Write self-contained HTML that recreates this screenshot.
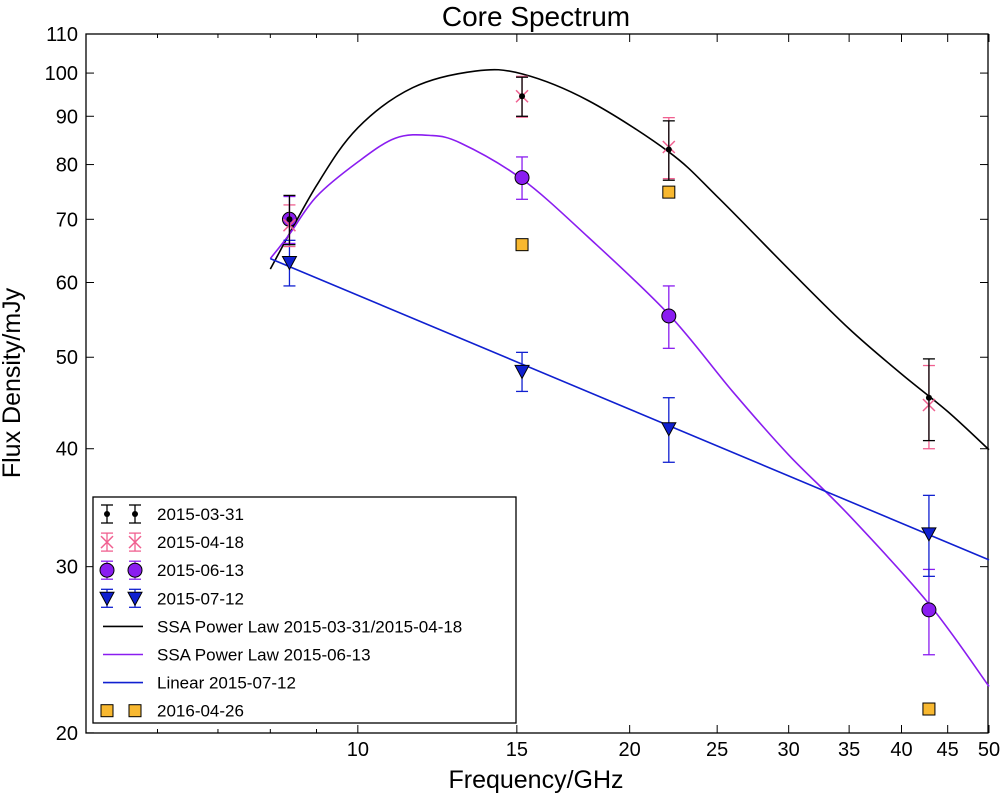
<!DOCTYPE html>
<html><head><meta charset="utf-8"><style>
body{margin:0;background:#fff;}
svg{display:block;font-family:"Liberation Sans",sans-serif;}
</style></head><body>
<svg id="chart" width="1000" height="797"></svg>
<script>
const xTicks=[10,15,20,25,30,35,40,45,50];
const xMinor=[6,7,8,9];
const yTicks=[20,30,40,50,60,70,80,90,100,110];
const freqs=[8.4,15.2,22.1,42.9];
const s0331=[70,94.5,83,45.3];
const e0331=[4.2,4.5,6,4.5];
const s0418=[69,94.5,83.5,44.5];
const e0418=[3.5,4.7,6.2,4.5];
const s0613=[70,77.5,55.3,27];
const e0613=[4,4,4.2,2.8];
const s0712=[63,48.3,42,32.5];
const e0712=[3.5,2.3,3.3,3.2];
const f0426=[15.2,22.1,42.9];
const s0426=[65.8,74.8,21.2];
const blkF=[8.0,9,10,11.5,13.5,15.2,18,22.1,25,30,35,40,45,50];
const blkS=[62,76,87.5,96.5,100.5,99.8,93.5,82.5,74,62,53.6,48,43.8,39.9];
const purF=[8.0,8.4,9,10,11,12,13,15.2,18,22.1,26,30,35,42.9,50];
const purS=[63.6,67.5,74,80.5,85.3,85.9,84.3,77.2,67,55.5,46,39.4,34,27.4,22.4];
const linF=[8.0,50];
const linS=[63.6,30.5];

const X0=86,X1=988,Y0=34,Y1=733;
const xs=f=>X0+(Math.log10(f)-Math.log10(5))*903;
const ys=v=>Y0+(Math.log10(110)-Math.log10(v))*944;
const svg=document.getElementById('chart');
const NS='http://www.w3.org/2000/svg';
function mk(t,a,parent){const e=document.createElementNS(NS,t);for(const k in a)e.setAttribute(k,a[k]);(parent||svg).appendChild(e);return e;}

let t=mk('text',{x:536,y:26,'text-anchor':'middle','font-size':28});t.textContent='Core Spectrum';


t=mk('text',{x:536,y:788,'text-anchor':'middle','font-size':25});t.textContent='Frequency/GHz';


t=mk('text',{x:20,y:383,'text-anchor':'middle','font-size':25,transform:'rotate(-90 20 383)'});t.textContent='Flux Density/mJy';



const frame=mk('rect',{x:X0,y:Y0,width:X1-X0,height:Y1-Y0,fill:'none',stroke:'#000','stroke-width':1.3});



xTicks.forEach(v=>{const x=xs(v);
 mk('line',{x1:x,x2:x,y1:Y1,y2:Y1-8,stroke:'#000'});mk('line',{x1:x,x2:x,y1:Y0,y2:Y0+8,stroke:'#000'});
 const l=mk('text',{x:x,y:Y1+23,'text-anchor':'middle','font-size':20});l.textContent=v;
 
 });
xMinor.forEach(v=>{const x=xs(v);mk('line',{x1:x,x2:x,y1:Y1,y2:Y1-4,stroke:'#000'});mk('line',{x1:x,x2:x,y1:Y0,y2:Y0+4,stroke:'#000'});});
yTicks.forEach(v=>{const y=ys(v);
 mk('line',{x1:X0,x2:X0+8,y1:y,y2:y,stroke:'#000'});mk('line',{x1:X1,x2:X1-8,y1:y,y2:y,stroke:'#000'});
 const l=mk('text',{x:X0-8,y:y+7,'text-anchor':'end','font-size':20});l.textContent=v;
 
 });

function line(F,S,c,name){
 const P=F.map((f,i)=>[xs(f),ys(S[i])]);
 let d='M'+P[0][0]+','+P[0][1];
 for(let i=0;i<P.length-1;i++){
  const p0=P[Math.max(0,i-1)],p1=P[i],p2=P[i+1],p3=P[Math.min(P.length-1,i+2)];
  const c1x=p1[0]+(p2[0]-p0[0])/6,c1y=p1[1]+(p2[1]-p0[1])/6;
  const c2x=p2[0]-(p3[0]-p1[0])/6,c2y=p2[1]-(p3[1]-p1[1])/6;
  d+=` C${c1x},${c1y} ${c2x},${c2y} ${p2[0]},${p2[1]}`;}
 const p=mk('path',{d:d,fill:'none',stroke:c,'stroke-width':1.6});
 
 }
line(blkF,blkS,'#000','ssa-curve-2015-03-31');
line(purF,purS,'#8a1df0','ssa-curve-2015-06-13');
line(linF,linS,'#1020d0','linear-fit-2015-07-12');

function ebar(x,y1,y2,c){mk('line',{x1:x,x2:x,y1:y1,y2:y2,stroke:c,'stroke-width':1.3});
 mk('line',{x1:x-6,x2:x+6,y1:y1,y2:y1,stroke:c,'stroke-width':1.3});mk('line',{x1:x-6,x2:x+6,y1:y2,y2:y2,stroke:c,'stroke-width':1.3});}
function marker(kind,x,y,name){let g=mk('g',{});
 
 
 if(kind==='dot')mk('circle',{cx:x,cy:y,r:3,fill:'#000'},g);
 if(kind==='x'){mk('line',{x1:x-6,y1:y-6,x2:x+6,y2:y+6,stroke:'#f06090','stroke-width':1.5},g);mk('line',{x1:x-6,y1:y+6,x2:x+6,y2:y-6,stroke:'#f06090','stroke-width':1.5},g);}
 if(kind==='circ')mk('circle',{cx:x,cy:y,r:7,fill:'#8a1df0',stroke:'#000','stroke-width':1},g);
 if(kind==='tri')mk('polygon',{points:`${x-7},${y-6} ${x+7},${y-6} ${x},${y+7}`,fill:'#1020d0',stroke:'#000','stroke-width':1},g);
 if(kind==='sq')mk('rect',{x:x-6,y:y-6,width:12,height:12,fill:'#f8b830',stroke:'#000','stroke-width':1},g);}
function series(S,E,c,kind,name){freqs.forEach((f,i)=>{const x=xs(f);ebar(x,ys(S[i]+E[i]),ys(S[i]-E[i]),c);marker(kind,x,ys(S[i]),name);});}
series(s0613,e0613,'#8a1df0','circ','point-2015-06-13');
series(s0712,e0712,'#1020d0','tri','point-2015-07-12');
series(s0418,e0418,'#f06090','x','point-2015-04-18');
series(s0331,e0331,'#000','dot','point-2015-03-31');
f0426.forEach((f,i)=>marker('sq',xs(f),ys(s0426[i]),'point-2016-04-26'));

const leg=mk('g',{});


mk('rect',{x:93,y:497,width:423,height:226,fill:'#fff',stroke:'#000','stroke-width':1.3},leg);
const entries=[['dot','#000','2015-03-31'],['x','#f06090','2015-04-18'],['circ','#8a1df0','2015-06-13'],['tri','#1020d0','2015-07-12'],['line','#000','SSA Power Law 2015-03-31/2015-04-18'],['line','#8a1df0','SSA Power Law 2015-06-13'],['line','#1020d0','Linear 2015-07-12'],['sq','#000','2016-04-26']];
entries.forEach((e,i)=>{const y=514+i*28.1;
 if(e[0]==='line'){mk('line',{x1:103,x2:143,y1:y,y2:y,stroke:e[1],'stroke-width':1.6},leg);}
 else{[107,135].forEach(x=>{if(e[0]!=='sq')ebar(x,y-9,y+9,e[1]);marker(e[0],x,y,'legend-marker');});}
 const l=mk('text',{x:157,y:y+6,'font-size':17},leg);l.textContent=e[2];
 
 });
</script>
</body></html>
